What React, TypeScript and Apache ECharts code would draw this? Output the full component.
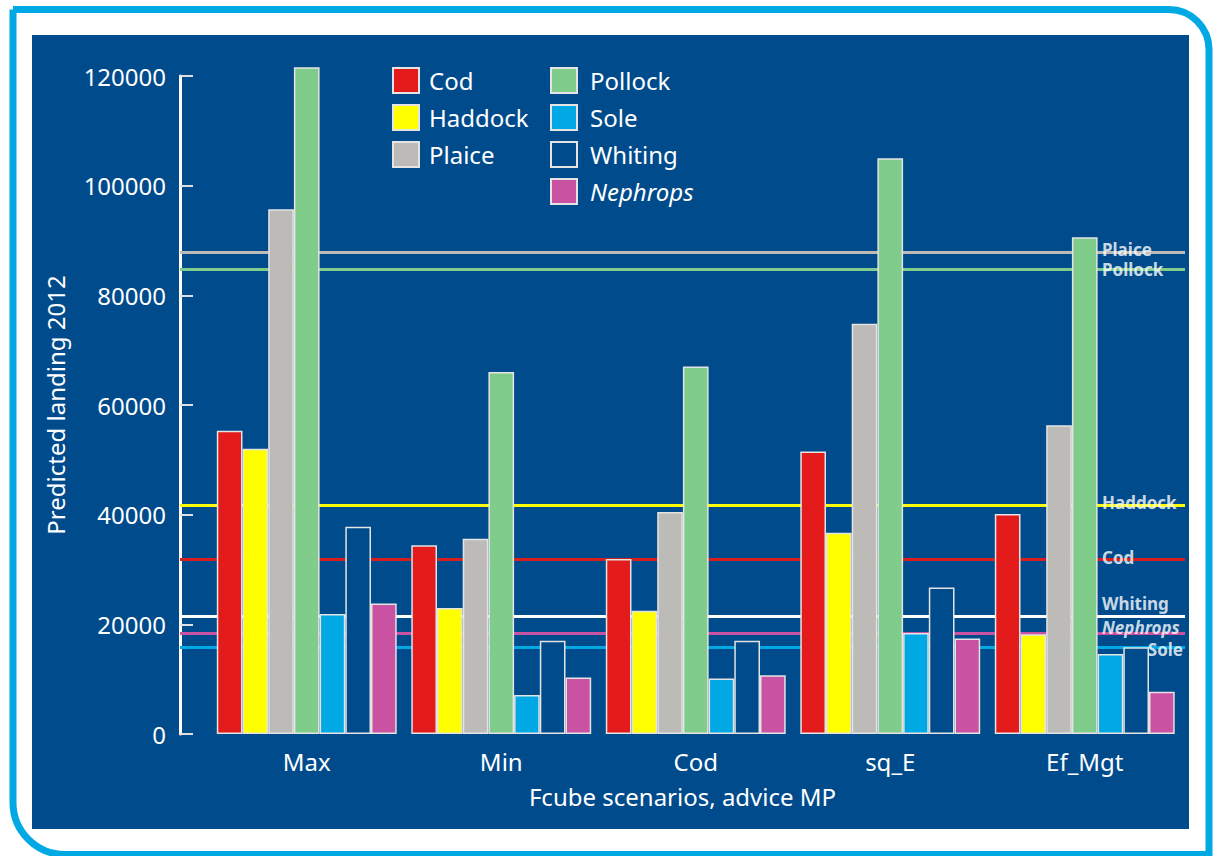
import React, { useEffect, useRef } from "react";
import * as echarts from "echarts";

const categories = ["Max", "Min", "Cod", "sq_E", "Ef_Mgt"];
const speciesNames = ["Cod", "Haddock", "Plaice", "Pollock", "Sole", "Whiting", "Nephrops"];
const cod = [55300, 34400, 31900, 51500, 40100];
const haddock = [52000, 23000, 22500, 36700, 18200];
const plaice = [95700, 35600, 40500, 74800, 56300];
const pollock = [121600, 66000, 67000, 105000, 90600];
const sole = [21900, 7100, 10100, 18400, 14600];
const whiting = [37800, 17000, 17000, 26700, 15800];
const nephrops = [23800, 10300, 10700, 17400, 7700];
const refNames = ["Plaice", "Pollock", "Haddock", "Cod", "Whiting", "Nephrops", "Sole"];
const refValues = [87900, 84700, 41800, 31900, 21400, 18400, 15900];
const yMin = 0;
const yMax = 120000;
const yInterval = 20000;

const PANEL = "#004b8c";
const FONT = "Noto Sans";
const colors: Record<string, string> = {
  Cod: "#e31b1b",
  Haddock: "#ffff00",
  Plaice: "#bdbbb8",
  Pollock: "#80cc8a",
  Sole: "#00a8e4",
  Whiting: PANEL,
  Nephrops: "#c952a2",
};
const refColors: Record<string, string> = {
  Plaice: "#bdbbb8",
  Pollock: "#80cc8a",
  Haddock: "#ffff00",
  Cod: "#d91e1e",
  Whiting: "#ffffff",
  Nephrops: "#c952a2",
  Sole: "#00a8e4",
};
const labelOffsets: Record<string, number[]> = {
  Plaice: [0, -3],
  Pollock: [0, 0],
  Haddock: [0, -2],
  Cod: [0, -2],
  Whiting: [0, -13],
  Nephrops: [0, -6],
  Sole: [-2, 3],
};
const seriesValues = [cod, haddock, plaice, pollock, sole, whiting, nephrops];

export default function App() {
  const ref = useRef<HTMLDivElement>(null);
  useEffect(() => {
    if (!ref.current) return;
    const chart = echarts.init(ref.current, undefined, { renderer: "svg" });

    const bars = speciesNames.map((name, i) => ({
      name,
      type: "bar",
      xAxisIndex: 0,
      yAxisIndex: 0,
      data: seriesValues[i],
      barGap: "0%",
      barCategoryGap: "7.5%",
      clip: false,
      z: 3,
      itemStyle: {
        color: colors[name],
        borderColor: "#e4e4e4",
        borderWidth: 1.5,
      },
    }));

    const labelStyle = (name: string) => ({
      show: true,
      formatter: name,
      color: "#ffffff",
      fontFamily: FONT,
      fontSize: 17,
      fontWeight: "bold",
      lineHeight: 16,
      fontStyle: name === "Nephrops" ? "italic" : "normal",
      position: name === "Sole" ? "left" : "right",
      distance: 0,
      offset: labelOffsets[name],
    });

    const legendBase = {
      orient: "vertical",
      top: 67,
      itemWidth: 26,
      itemHeight: 25,
      itemGap: 10,
      padding: 0,
      icon: "rect",
      selectedMode: false,
    };

    const option: any = {
      animation: false,
      backgroundColor: "#ffffff",
      graphic: [
        {
          type: "rect",
          z: -20,
          silent: true,
          shape: { x: 13, y: 9.5, width: 1196, height: 845, r: [0, 40, 0, 52] },
          style: { fill: "none", stroke: "#00a8e4", lineWidth: 7 },
        },
        {
          type: "rect",
          z: -10,
          silent: true,
          shape: { x: 32, y: 35, width: 1157, height: 794 },
          style: { fill: PANEL },
        },
      ],
      legend: [
        {
          ...legendBase,
          data: speciesNames.slice(0, 3),
          left: 392,
          textStyle: { color: "#ffffff", fontSize: 24, fontFamily: FONT, padding: [0, 0, 0, 5] },
        },
        {
          ...legendBase,
          data: speciesNames.slice(3),
          left: 550,
          formatter: (n: string) => (n === "Nephrops" ? `{i|${n}}` : n),
          textStyle: {
            color: "#ffffff",
            fontSize: 24,
            fontFamily: FONT,
            padding: [0, 0, 0, 8],
            rich: { i: { fontStyle: "italic", color: "#ffffff", fontSize: 24, fontFamily: FONT } },
          },
        },
      ],
      grid: [
        { left: 209.5, right: 31, top: 76, bottom: 122 },
        { left: 180, right: 28, top: 76, bottom: 122 },
      ],
      xAxis: [
        {
          type: "category",
          gridIndex: 0,
          data: categories,
          axisLine: { show: false },
          axisTick: { show: false },
          axisLabel: { color: "#ffffff", fontSize: 24, fontFamily: FONT, margin: 15 },
        },
        {
          type: "value",
          gridIndex: 1,
          min: 0,
          max: 1,
          axisLine: { show: false },
          axisTick: { show: false },
          axisLabel: { show: false },
          splitLine: { show: false },
          name: "Fcube scenarios, advice MP",
          nameLocation: "middle",
          nameGap: 50,
          nameTextStyle: { color: "#ffffff", fontSize: 24, fontFamily: FONT },
        },
      ],
      yAxis: [
        {
          type: "value",
          gridIndex: 0,
          min: yMin,
          max: yMax,
          interval: yInterval,
          offset: 29.5,
          axisLine: { show: true, lineStyle: { color: "#ffffff", width: 3 } },
          axisTick: { show: true, inside: true, length: 13, lineStyle: { color: "#e0e0e0", width: 2 } },
          axisLabel: {
            color: "#ffffff",
            fontSize: 24,
            fontFamily: FONT,
            margin: 14,
            formatter: (v: number) => String(v),
          },
          splitLine: { show: false },
          name: "Predicted landing 2012",
          nameLocation: "middle",
          nameGap: 113,
          nameTextStyle: { color: "#ffffff", fontSize: 24, fontFamily: FONT },
        },
        {
          type: "value",
          gridIndex: 1,
          min: yMin,
          max: yMax,
          show: false,
        },
      ],
      series: [
        {
          name: "refLines",
          type: "line",
          xAxisIndex: 1,
          yAxisIndex: 1,
          data: [],
          z: 1,
          silent: true,
          markLine: {
            symbol: "none",
            silent: true,
            z: 1,
            label: { show: false },
            data: refNames.map((n, i) => ({
              yAxis: refValues[i],
              lineStyle: { color: refColors[n], width: 3, type: "solid" },
            })),
          },
        },
        {
          name: "refLabels",
          type: "scatter",
          xAxisIndex: 1,
          yAxisIndex: 1,
          symbolSize: 0,
          z: 5,
          silent: true,
          itemStyle: { color: "#ffffff" },
          data: refNames.map((n, i) => ({
            value: [n === "Sole" ? 1 : 0.9174, refValues[i]],
            label: labelStyle(n),
          })),
        },
        ...bars,
      ],
    };
    chart.setOption(option);
    return () => chart.dispose();
  }, []);
  return (
    <div
      ref={ref}
      style={{ position: "fixed", left: 0, top: 0, width: 1213, height: 856 }}
    />
  );
}
